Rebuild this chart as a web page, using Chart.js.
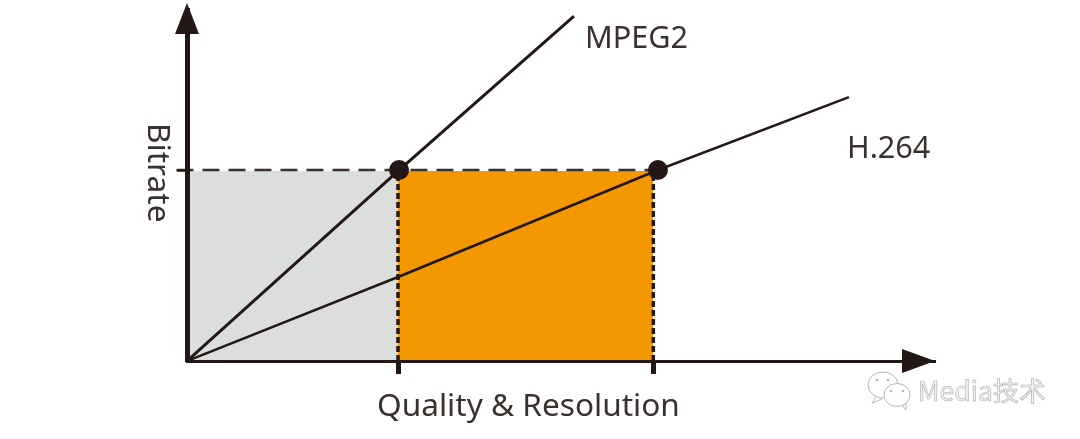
<!DOCTYPE html>
<html lang="en">
<head>
<meta charset="UTF-8">
<title>Bitrate vs quality</title>
<script src="https://cdn.jsdelivr.net/npm/chart.js"></script>
<style>
  html, body { margin: 0; background: #fff; }
  canvas { display: block; }
</style>
</head>
<body>
<canvas id="myChart" width="1080" height="439"></canvas>
<script>
// values are in "units" where the MPEG2 operating point is about (1, 1)
const xTicks = [1, 2.21];
const yTicks = [1];
const mpeg2Line = [{x: 0, y: 0}, {x: 1.005, y: 1}, {x: 1.834, y: 1.806}];
const h264Line = [{x: 0, y: 0}, {x: 1, y: 0.44}, {x: 2.232, y: 1}, {x: 3.137, y: 1.382}];
const crossPoints = [{x: 1.005, y: 1}, {x: 2.232, y: 1}];
const grayArea = [{x: 0, y: 0.995}, {x: 1, y: 0.995}];
const orangeArea = [{x: 1, y: 0.995}, {x: 2.21, y: 0.995}];
const levelLine = [{x: -0.05, y: 1}, {x: 2.21, y: 1}];
const dropLine1 = [{x: 1, y: 0}, {x: 1, y: 1}];
const dropLine2 = [{x: 2.21, y: 0}, {x: 2.21, y: 1}];
const xTitle = "Quality & Resolution";
const yTitle = "Bitrate";
const mpeg2Label = "MPEG2";
const h264Label = "H.264";
const watermark = "Media技术";

const ink = "#231815";

// arrows, text and the watermark are not something chart.js has an option for
const extras = {
  id: "extras",
  afterDraw(chart) {
    const ctx = chart.ctx;
    const a = chart.chartArea;
    ctx.save();
    ctx.fillStyle = ink;
    // y arrow
    ctx.beginPath();
    ctx.moveTo(a.left, 3);
    ctx.lineTo(a.left - 12, 34);
    ctx.lineTo(a.left + 12, 34);
    ctx.fill();
    // x arrow
    ctx.beginPath();
    ctx.moveTo(935, a.bottom);
    ctx.lineTo(902, a.bottom - 12);
    ctx.lineTo(902, a.bottom + 12);
    ctx.fill();

    ctx.fillStyle = "#3a302d";
    ctx.textBaseline = "alphabetic";
    ctx.textAlign = "left";
    ctx.font = '31.6px "Noto Sans"';
    ctx.fillText(xTitle, 377, 416);
    ctx.font = '30.6px "Noto Sans"';
    ctx.fillText(mpeg2Label, 585, 48);
    ctx.fillText(h264Label, 847, 158);
    ctx.save();
    ctx.translate(148, 123);
    ctx.rotate(Math.PI / 2);
    ctx.font = '31.6px "Noto Sans"';
    ctx.fillText(yTitle, 0, 0);
    ctx.restore();

    // watermark: two chat bubbles and the account name
    ctx.strokeStyle = "#b5b5b5";
    ctx.fillStyle = "#fff";
    ctx.lineWidth = 1;
    ctx.beginPath();
    ctx.ellipse(883, 385, 15, 13, 0, 0, Math.PI * 2);
    ctx.stroke();
    ctx.beginPath();
    ctx.moveTo(876, 397);
    ctx.lineTo(872, 403);
    ctx.lineTo(882, 399);
    ctx.stroke();
    ctx.beginPath();
    ctx.ellipse(897, 395, 13, 11.5, 0, 0, Math.PI * 2);
    ctx.fill();
    ctx.stroke();
    ctx.beginPath();
    ctx.moveTo(902, 405);
    ctx.lineTo(906, 410);
    ctx.lineTo(906, 403);
    ctx.stroke();
    ctx.fillStyle = "#b5b5b5";
    [[877, 380], [888, 380], [891, 391], [903, 391]].forEach(p => {
      ctx.beginPath();
      ctx.arc(p[0], p[1], 1.3, 0, Math.PI * 2);
      ctx.fill();
    });
    ctx.font = '26.5px "Noto Sans CJK SC"';
    ctx.fillStyle = "#f4f4f4";
    ctx.fillText(watermark, 918, 401);
    ctx.lineWidth = 0.6;
    ctx.strokeStyle = "#a8a8a8";
    ctx.strokeText(watermark, 918, 401);
    ctx.restore();
  }
};

const ctx = document.getElementById("myChart");
new Chart(ctx, {
  type: "scatter",
  data: {
    datasets: [
      { data: grayArea, showLine: true, fill: "origin", backgroundColor: "#dcdddd", borderWidth: 0, pointRadius: 0, order: 6 },
      { data: orangeArea, showLine: true, fill: "origin", backgroundColor: "#f39800", borderWidth: 0, pointRadius: 0, order: 5 },
      { data: levelLine, showLine: true, borderColor: "#3a302d", borderWidth: 2.5, borderDash: [17, 9], pointRadius: 0, clip: false, order: 4 },
      { data: dropLine1, showLine: true, borderColor: ink, borderWidth: 3.5, borderDash: [6, 3], pointRadius: 0, order: 4 },
      { data: dropLine2, showLine: true, borderColor: ink, borderWidth: 3.5, borderDash: [6, 3], pointRadius: 0, order: 4 },
      { data: mpeg2Line, showLine: true, borderColor: ink, borderWidth: 3, pointRadius: 0, order: 3 },
      { data: h264Line, showLine: true, borderColor: ink, borderWidth: 2.5, pointRadius: 0, order: 2 },
      { data: crossPoints, showLine: false, backgroundColor: ink, borderWidth: 0, pointRadius: 10, order: 1 }
    ]
  },
  options: {
    responsive: false,
    animation: false,
    events: [],
    layout: { padding: { top: 4, right: 145, left: 0, bottom: 0 } },
    plugins: { legend: { display: false }, tooltip: { enabled: false } },
    scales: {
      x: {
        min: 0,
        max: 3.545,
        afterFit(s) { s.height = 78; },
        afterBuildTicks(s) { s.ticks = xTicks.map(v => ({ value: v })); },
        ticks: { display: false, autoSkip: false },
        border: { display: true, color: ink, width: 3, z: 1 },
        grid: { drawOnChartArea: false, drawTicks: true, tickLength: 13, tickWidth: 5, tickColor: ink, z: 1 }
      },
      y: {
        min: 0,
        max: 1.838,
        afterFit(s) { s.width = 187; },
        afterBuildTicks(s) { s.ticks = yTicks.map(v => ({ value: v })); },
        ticks: { display: false, autoSkip: false },
        border: { display: true, color: ink, width: 5, z: 1 },
        grid: { drawOnChartArea: false, drawTicks: true, tickLength: 10, tickWidth: 2.5, tickColor: ink, z: 1 }
      }
    }
  },
  plugins: [extras]
});
</script>
</body>
</html>
